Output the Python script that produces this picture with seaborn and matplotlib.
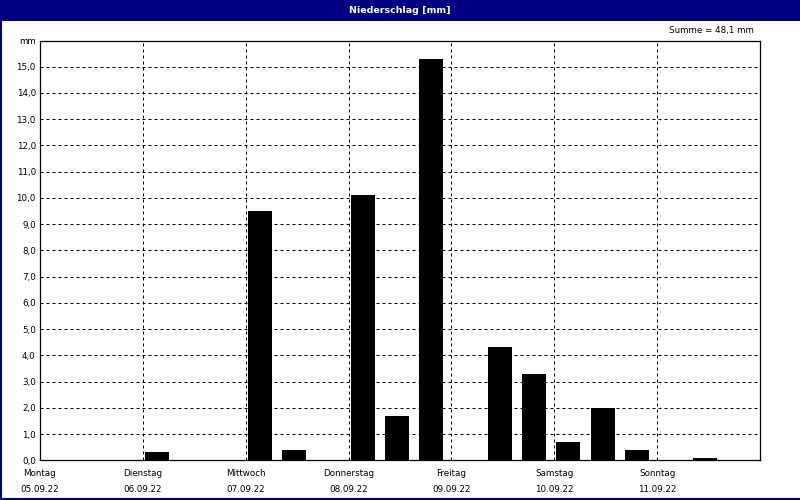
import matplotlib
matplotlib.use("Agg")
import matplotlib.pyplot as plt
from matplotlib.patches import Rectangle
from matplotlib.lines import Line2D
import seaborn as sns
import numpy as np
import pandas as pd

# ---- data ----
day_names = ["Montag", "Dienstag", "Mittwoch", "Donnerstag", "Freitag", "Samstag", "Sonntag"]
day_dates = ["05.09.22", "06.09.22", "07.09.22", "08.09.22", "09.09.22", "10.09.22", "11.09.22"]
# precipitation per 8-hour interval (3 per day), mm
rain_mm = [0.0, 0.0, 0.0,
           0.3, 0.0, 0.0,
           9.5, 0.4, 0.0,
           10.1, 1.7, 15.3,
           0.0, 4.3, 3.3,
           0.7, 2.0, 0.4,
           0.0, 0.1, 0.0]
y_ticks = list(range(0, 16))
title = "Niederschlag [mm]"
total_label = "Summe = 48,1 mm"

sns.set_style("white")
plt.rcParams["font.family"] = ["DejaVu Sans"]

navy = "#000080"
fig = plt.figure(figsize=(8, 5), dpi=100, facecolor="white")
ax = fig.add_axes([0.05, 0.0794, 0.9, 0.8396])

slots_per_day = 3
slot_w = 1.0 / slots_per_day
n = len(rain_mm)
xpos = np.arange(n) * slot_w + 0.136
df = pd.DataFrame({"x": xpos, "mm": rain_mm})

sns.barplot(data=df, x="x", y="mm", native_scale=True, width=0.7,
            color="black", saturation=1, linewidth=0, errorbar=None, ax=ax)

ax.set_xlim(0, 7)
ax.set_ylim(0, 16)

# grid
dash = (0, (3, 3))
for yv in y_ticks[1:]:
    ax.axhline(yv, color="black", lw=0.72, linestyle=dash, zorder=0.5)
for xv in range(1, 7):
    ax.axvline(xv, color="black", lw=0.72, linestyle=dash, zorder=0.5)

ax.set_yticks(y_ticks + [16])
ax.set_yticklabels([f"{v:.1f}".replace(".", ",") for v in y_ticks] + ["mm"])
ax.set_xticks(range(7))
ax.set_xticklabels([f"{d}\n{t}" for d, t in zip(day_names, day_dates)],
                   linespacing=2.0)
ax.tick_params(axis="y", length=0, pad=3, labelsize=6.3, colors="black")
ax.tick_params(axis="x", length=3, width=0.72, pad=3, labelsize=6.3, colors="black",
               direction="out")
ax.set_xlabel("")
ax.set_ylabel("")
for s in ax.spines.values():
    s.set_visible(True)
    s.set_color("black")
    s.set_linewidth(0.9)

# header bar and frame
fig.add_artist(Rectangle((0, 1 - 20.5 / 500), 1, 20.5 / 500, transform=fig.transFigure,
                         facecolor=navy, edgecolor="none", zorder=5))
fig.add_artist(Line2D([0.0012, 0.0012], [0, 1], transform=fig.transFigure,
                      color=navy, lw=1.5, zorder=6))
fig.add_artist(Line2D([0, 1], [0.002, 0.002], transform=fig.transFigure,
                      color=navy, lw=1.5, zorder=6))
fig.text(0.5, 1 - 10.5 / 500, title, color="white", fontsize=6.8, fontweight="bold",
         ha="center", va="center", zorder=7)
fig.text(754 / 800, 1 - 31 / 500, total_label, color="black", fontsize=6.3,
         ha="right", va="center")

fig.savefig("out.png", dpi=100, facecolor="white")
